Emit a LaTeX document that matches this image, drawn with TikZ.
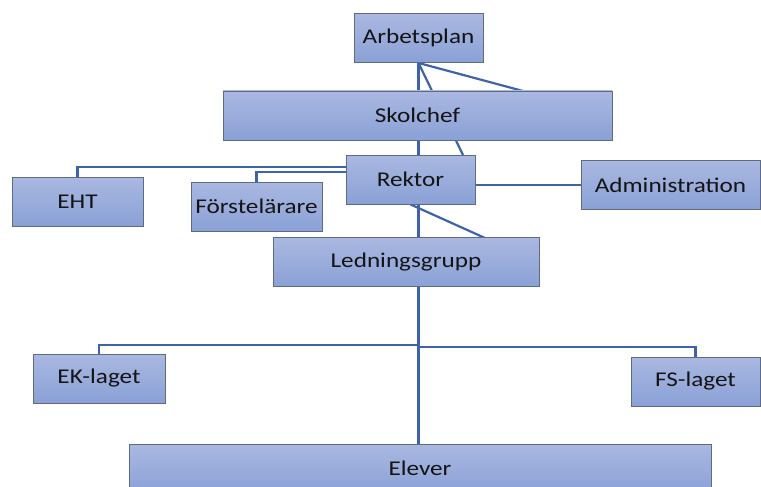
\documentclass[tikz,border=0pt]{standalone}
\usepackage{fontspec}
\setmainfont[FakeStretch=1.2]{Carlito}
\usetikzlibrary{calc}
\pgfdeclarelayer{bg}
\pgfsetlayers{bg,main}
\definecolor{boxtop}{HTML}{AAB8E1}
\definecolor{boxbot}{HTML}{8AA1D6}
\definecolor{boxedge}{HTML}{5E6B85}
\definecolor{linkblue}{HTML}{3F63AA}

\begin{document}
\begin{tikzpicture}[x=1pt,y=-1pt,inner sep=0pt,
  orgbox/.style={draw=boxedge,line width=.9pt,top color=boxtop,bottom color=boxbot,
    minimum height=49pt,text=black!92,font=\fontsize{21}{25}\selectfont},
  link/.style={draw=linkblue,line width=2.2pt},
  mainlink/.style={draw=linkblue,line width=3.6pt}]
\useasboundingbox (0,0) rectangle (761,487);
\draw node [orgbox,minimum width=129pt] at (418.5,38)  (Arbetsplan) {Arbetsplan};
\draw node [orgbox,minimum width=389pt] at (417.5,115.5) (Skolchef) {Skolchef};
\draw node [orgbox,minimum width=129pt] at (410.5,179.5) (Rektor) {Rektor};
\draw node [orgbox,minimum width=131pt] at (77.5,201.5) (EHT) {EHT};
\draw node [orgbox,minimum width=131pt] at (256.5,206.5) (Forstelarare) {\raisebox{-3pt}{Förstelärare}};
\draw node [orgbox,minimum width=179pt] at (670.5,185) (Administration) {Administration};
\draw node [orgbox,minimum width=266pt] at (406,262) (Ledningsgrupp) {Ledningsgrupp};
\draw node [orgbox,minimum width=132pt] at (99,378.5) (EKlaget) {EK-laget};
\draw node [orgbox,minimum width=129pt] at (695.5,381.5) (FSlaget) {FS-laget};
\draw node [orgbox,minimum width=582pt] at (420,468.5) (Elever) {Elever};
\coordinate (jEK) at (418,345);
\coordinate (jFS) at (418,347);
\begin{pgfonlayer}{bg}
\draw [mainlink] (Arbetsplan.south) -- (Arbetsplan.south |- Ledningsgrupp.north);
\draw [link] (Arbetsplan.south) -- (523,91);
\draw [link] (Arbetsplan.south) -- (463,155);
\draw [link] (Rektor.south) -- (485,238);
\draw [link] (EHT.north) |- ($(Rektor.north west)!.25!(Rektor.south west)$);
\draw [link] (Forstelarare.north) |- ($(Rektor.north west)!.35!(Rektor.south west)$);
\draw [link] (Administration.west) -- (Administration.west -| Rektor.east);
\draw [link] (Arbetsplan.south |- Ledningsgrupp.south) -- (Arbetsplan.south |- Elever.north);
\draw [link] (EKlaget.north) |- (jEK);
\draw [link] (FSlaget.north) |- (jFS);
\end{pgfonlayer}
\end{tikzpicture}
\end{document}
